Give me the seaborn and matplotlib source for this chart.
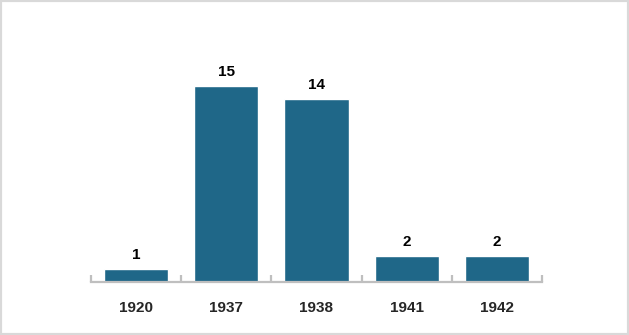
import matplotlib
matplotlib.use("Agg")
import matplotlib.pyplot as plt
import seaborn as sns
import pandas as pd
from matplotlib.patches import Rectangle
from matplotlib.ticker import FixedLocator

years = ["1920", "1937", "1938", "1941", "1942"]
counts = [1, 15, 14, 2, 2]

df = pd.DataFrame({"year": years, "count": counts})

sns.set_theme(style="white")
plt.rcParams['font.family'] = ['Liberation Sans', 'DejaVu Sans']

fig = plt.figure(figsize=(6.29, 3.35), dpi=100)
ax = fig.add_axes([91/629, 53/335, 451/629, 261.4/335])

sns.barplot(data=df, x="year", y="count", color="#1f6788", width=0.71,
            saturation=1, ax=ax)

ax.set_ylim(0, 20)
ax.set_xlim(-0.5, len(years) - 0.5)
for c in ax.containers:
    ax.bar_label(c, labels=[str(v) for v in counts], padding=5,
                 fontsize=11, fontweight="bold", color="black")

for s in ["top", "right", "left"]:
    ax.spines[s].set_visible(False)
ax.spines["bottom"].set_color("#bfbfbf")
ax.spines["bottom"].set_linewidth(1.6)
ax.set_yticks([])
ax.set_xlabel("")
ax.set_ylabel("")
ax.tick_params(axis="x", which="both", bottom=True)
ax.tick_params(axis="x", which="major", length=0, pad=14, labelsize=11)
for t in ax.get_xticklabels():
    t.set_fontweight("bold")
ax.xaxis.set_minor_locator(FixedLocator([i - 0.5 for i in range(len(years) + 1)]))
ax.tick_params(axis="x", which="minor", direction="in", length=5, width=1.6,
               color="#bfbfbf")

fig.patches.append(Rectangle((0, 0), 1, 1, transform=fig.transFigure,
                             fill=False, edgecolor="#d9d9d9", linewidth=3))

fig.savefig("out.png", dpi=100)
